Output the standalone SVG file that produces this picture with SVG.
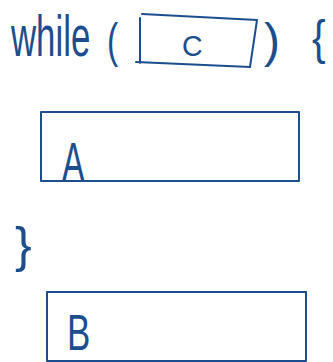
<svg xmlns="http://www.w3.org/2000/svg" width="333" height="362" viewBox="0 0 333 362">
<style>
.ink{fill:none;stroke:#1c4e8e;stroke-width:2;stroke-linecap:round;stroke-linejoin:round}
.hand{fill:#1c4e8e;font-family:"Liberation Sans",sans-serif;font-weight:300}
</style>
<rect width="333" height="362" fill="#fff"/>
<g id="header">
<text class="hand" transform="translate(11,56) scale(0.6,1)" font-size="58">while</text>
<text class="hand" transform="translate(107,57) scale(0.7,1)" font-size="48">(</text>
<text class="hand" transform="translate(264,57) scale(1,1)" font-size="48">)</text>
<text class="hand" transform="translate(312,54) scale(0.85,1)" font-size="48">{</text>
</g>
<g id="nodeC">
<path class="ink" d="M142,14 L257,20 L250,67 L136,62 M140,18 L140,63"/>
<text class="hand" transform="translate(182,56) scale(0.95,1)" font-size="30">C</text>
</g>
<g id="nodeA">
<rect class="ink" x="41" y="112" width="258" height="69"/>
<text class="hand" transform="translate(62,181) scale(0.6,1)" font-size="56">A</text>
</g>
<g id="closing">
<text class="hand" transform="translate(15,262) scale(1,1)" font-size="50">}</text>
</g>
<g id="nodeB">
<rect class="ink" x="47" y="292" width="259" height="69"/>
<text class="hand" transform="translate(67,350) scale(0.7,1)" font-size="50">B</text>
</g>
<g id="connectors"/>
</svg>
